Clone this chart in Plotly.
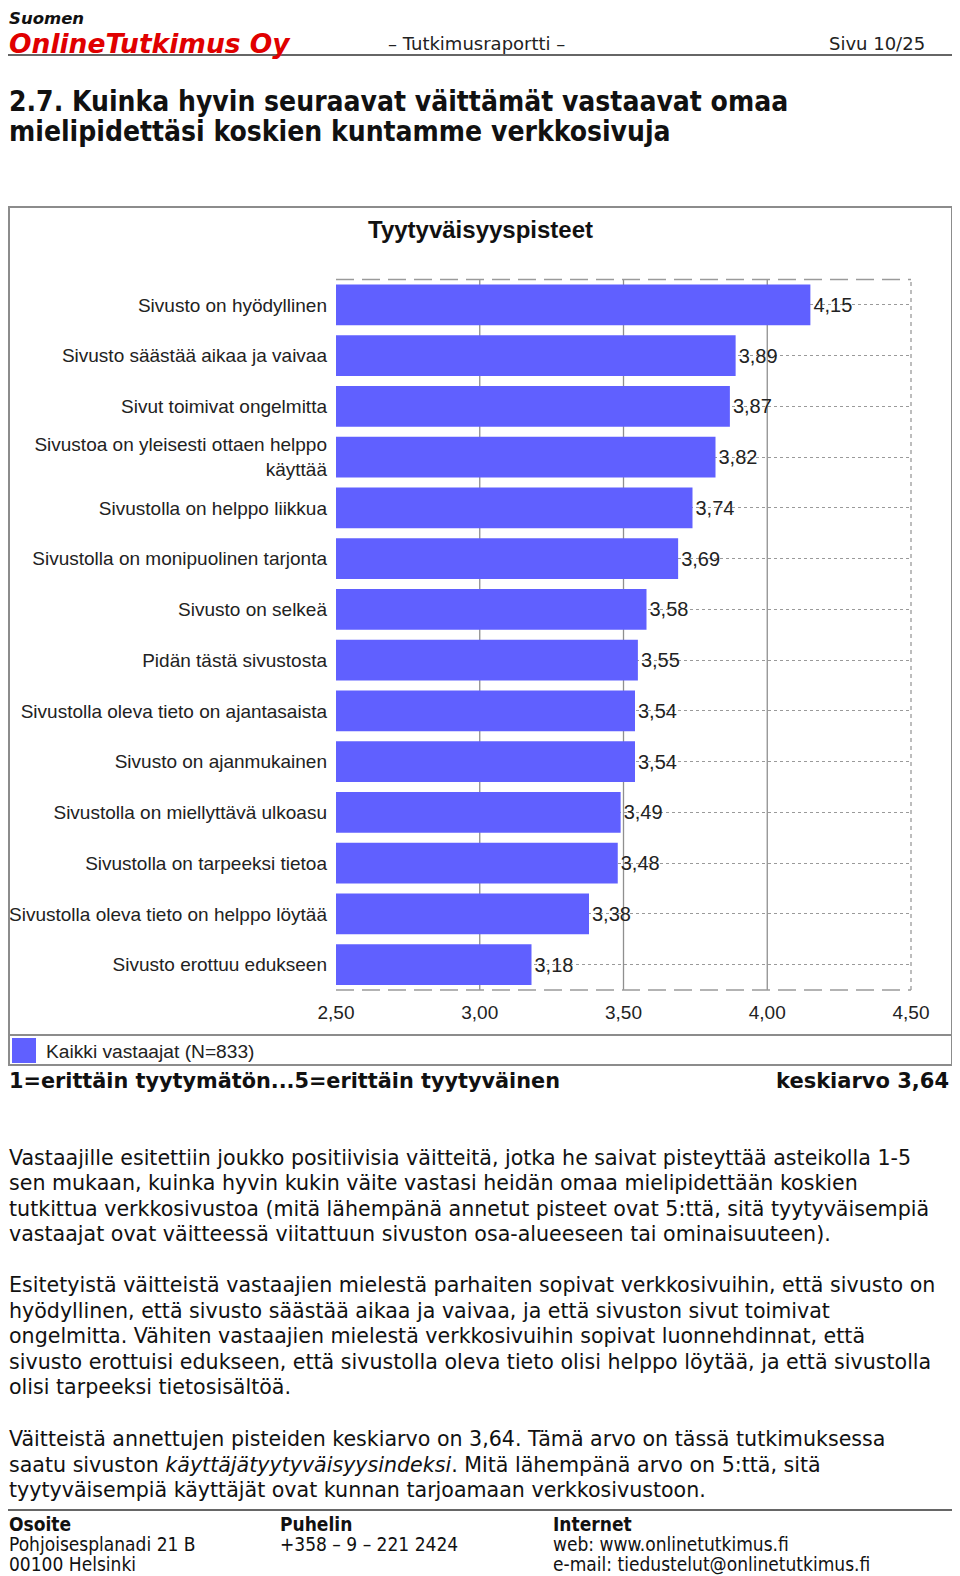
import plotly.graph_objects as go

# the page body has an 8px margin; the figure starts at (8, 8) in the window
OFF = 8
W, H = 960 - OFF, 1576 - OFF

categories = [
    "Sivusto on hyödyllinen",
    "Sivusto säästää aikaa ja vaivaa",
    "Sivut toimivat ongelmitta",
    "Sivustoa on yleisesti ottaen helppo<br>käyttää",
    "Sivustolla on helppo liikkua",
    "Sivustolla on monipuolinen tarjonta",
    "Sivusto on selkeä",
    "Pidän tästä sivustosta",
    "Sivustolla oleva tieto on ajantasaista",
    "Sivusto on ajanmukainen",
    "Sivustolla on miellyttävä ulkoasu",
    "Sivustolla on tarpeeksi tietoa",
    "Sivustolla oleva tieto on helppo löytää",
    "Sivusto erottuu edukseen",
]
values = [4.15, 3.89, 3.87, 3.82, 3.74, 3.69, 3.58, 3.55, 3.54, 3.54, 3.49, 3.48, 3.38, 3.18]
series_name = "Kaikki vastaajat (N=833)"
chart_title = "Tyytyväisyyspisteet"
x_tickvals = [2.5, 3.0, 3.5, 4.0, 4.5]
x_ticktext = ["2,50", "3,00", "3,50", "4,00", "4,50"]
grid_vals = [3.0, 3.5, 4.0]

BAR = "#6060FF"
GRID = "#9a9a9a"
CHART_FONT = "Liberation Sans, Arial, sans-serif"
PAGE_FONT = "DejaVu Sans, Verdana, sans-serif"
COND_FONT = "DejaVu Sans Condensed, DejaVu Sans, sans-serif"


def px(x):
    return (x - OFF) / W


def py(y):
    return 1 - (y - OFF) / H


fig = go.Figure()
fig.add_trace(go.Bar(
    x=values, y=categories, orientation="h",
    marker=dict(color=BAR, line=dict(width=0)),
    width=0.8,
    text=[f"{v:.2f}".replace(".", ",") for v in values],
    textposition="outside",
    textfont=dict(family=CHART_FONT, size=20, color="#222"),
    cliponaxis=False,
    name=series_name,
    showlegend=False,
))

plot_l, plot_r, plot_t, plot_b = 336, 911, 279.5, 990

fig.update_layout(
    width=W, height=H, autosize=False,
    margin=dict(l=0, r=0, t=0, b=0, pad=0),
    paper_bgcolor="white", plot_bgcolor="white",
    xaxis=dict(domain=[px(plot_l), px(plot_r)], range=[2.5, 4.5], automargin=False,
               tickmode="array", tickvals=x_tickvals, ticktext=x_ticktext,
               showgrid=False, zeroline=False, showline=False, ticks="",
               ticklabelstandoff=9,
               tickfont=dict(family=CHART_FONT, size=19, color="#222")),
    yaxis=dict(domain=[py(plot_b), py(plot_t)], autorange="reversed", automargin=False,
               categoryorder="array", categoryarray=categories,
               showgrid=True, gridcolor=GRID, griddash="3px,3px", gridwidth=1,
               zeroline=False, showline=False, ticks="",
               ticklabelstandoff=8,
               tickfont=dict(family=CHART_FONT, size=19, color="#222")),
    bargap=0.2,
    showlegend=False,
)

shapes = []
# vertical gridlines
for g in grid_vals:
    shapes.append(dict(type="line", xref="x", yref="y domain", x0=g, x1=g, y0=0, y1=1,
                       line=dict(color="#8f8f8f", width=1.3), layer="below"))
# plot borders
shapes.append(dict(type="line", xref="x domain", yref="y domain", x0=0, x1=1, y0=1, y1=1,
                   line=dict(color=GRID, width=1.6, dash="18px,8px"), layer="below"))
shapes.append(dict(type="line", xref="x domain", yref="y domain", x0=0, x1=1, y0=0, y1=0,
                   line=dict(color=GRID, width=1.6, dash="18px,8px"), layer="below"))
shapes.append(dict(type="line", xref="x domain", yref="y domain", x0=1, x1=1, y0=0, y1=1,
                   line=dict(color=GRID, width=1.3, dash="4px,4px"), layer="below"))
# chart frame
shapes.append(dict(type="rect", xref="paper", yref="paper", x0=px(9), x1=px(952), y0=py(1065), y1=py(207),
                   line=dict(color="#8c8c8c", width=2), fillcolor="rgba(0,0,0,0)"))
shapes.append(dict(type="line", xref="paper", yref="paper", x0=px(9), x1=px(952), y0=py(1035), y1=py(1035),
                   line=dict(color="#8c8c8c", width=2)))
# legend swatch
shapes.append(dict(type="rect", xref="paper", yref="paper", x0=px(12), x1=px(36), y0=py(1063), y1=py(1038),
                   line=dict(width=0), fillcolor=BAR))
# header rule and footer rule
shapes.append(dict(type="line", xref="paper", yref="paper", x0=0, x1=1, y0=py(55), y1=py(55),
                   line=dict(color="#333", width=1.5)))
shapes.append(dict(type="line", xref="paper", yref="paper", x0=0, x1=1, y0=py(1510), y1=py(1510),
                   line=dict(color="#333", width=1.5)))
fig.update_layout(shapes=shapes)

ann = []


def text(x, y, s, size, family=PAGE_FONT, color="#111", anchor="left", bold=False, italic=False):
    if bold:
        s = f"<b>{s}</b>"
    if italic:
        s = f"<i>{s}</i>"
    ann.append(dict(x=px(x), y=py(y), xref="paper", yref="paper", text=s, showarrow=False,
                    xanchor=anchor, yanchor="middle", borderpad=0,
                    font=dict(family=family, size=size, color=color)))


# header
text(8, 19, "Suomen", 16.5, bold=True, italic=True, color="#111")
text(8, 43, "OnlineTutkimus Oy", 26.5, bold=True, italic=True, color="#E00000")
text(387, 43, "– Tutkimusraportti –", 18, family=PAGE_FONT, color="#222")
text(926, 43, "Sivu 10/25", 18, family=PAGE_FONT, color="#222", anchor="right")

# heading
text(8, 101, "2.7. Kuinka hyvin seuraavat väittämät vastaavat omaa", 28, family=COND_FONT, bold=True)
text(8, 131.5, "mielipidettäsi koskien kuntamme verkkosivuja", 28, family=COND_FONT, bold=True)

# chart title and legend label
text(480, 229, chart_title, 24, family=CHART_FONT, bold=True, color="#111", anchor="center")
text(45, 1051, series_name, 19.2, family=CHART_FONT, color="#222")

# under chart
text(8, 1081, "1=erittäin tyytymätön...5=erittäin tyytyväinen", 20.8, bold=True)
text(950, 1081, "keskiarvo 3,64", 21, bold=True, anchor="right")

para1 = [
    "Vastaajille esitettiin joukko positiivisia väitteitä, jotka he saivat pisteyttää asteikolla 1-5",
    "sen mukaan, kuinka hyvin kukin väite vastasi heidän omaa mielipidettään koskien",
    "tutkittua verkkosivustoa (mitä lähempänä annetut pisteet ovat 5:ttä, sitä tyytyväisempiä",
    "vastaajat ovat väitteessä viitattuun sivuston osa-alueeseen tai ominaisuuteen).",
]
para2 = [
    "Esitetyistä väitteistä vastaajien mielestä parhaiten sopivat verkkosivuihin, että sivusto on",
    "hyödyllinen, että sivusto säästää aikaa ja vaivaa, ja että sivuston sivut toimivat",
    "ongelmitta. Vähiten vastaajien mielestä verkkosivuihin sopivat luonnehdinnat, että",
    "sivusto erottuisi edukseen, että sivustolla oleva tieto olisi helppo löytää, ja että sivustolla",
    "olisi tarpeeksi tietosisältöä.",
]
para3 = [
    "Väitteistä annettujen pisteiden keskiarvo on 3,64. Tämä arvo on tässä tutkimuksessa",
    "saatu sivuston <i>käyttäjätyytyväisyysindeksi</i>. Mitä lähempänä arvo on 5:ttä, sitä",
    "tyytyväisempiä käyttäjät ovat kunnan tarjoamaan verkkosivustoon.",
]
for start, lines in ((1157.5, para1), (1285, para2), (1439, para3)):
    for i, line in enumerate(lines):
        text(8, start + i * 25.6, line, 20.6)

# footer
foot = [
    (8, ["<b>Osoite</b>", "Pohjoisesplanadi 21 B", "00100 Helsinki"]),
    (279, ["<b>Puhelin</b>", "+358 – 9 – 221 2424"]),
    (552, ["<b>Internet</b>", "web: www.onlinetutkimus.fi", "e-mail: tiedustelut@onlinetutkimus.fi"]),
]
for x, lines in foot:
    for i, line in enumerate(lines):
        text(x, 1524 + i * 20.2, line, 19, family=COND_FONT)

fig.update_layout(annotations=ann)
fig.write_html("out.html")
